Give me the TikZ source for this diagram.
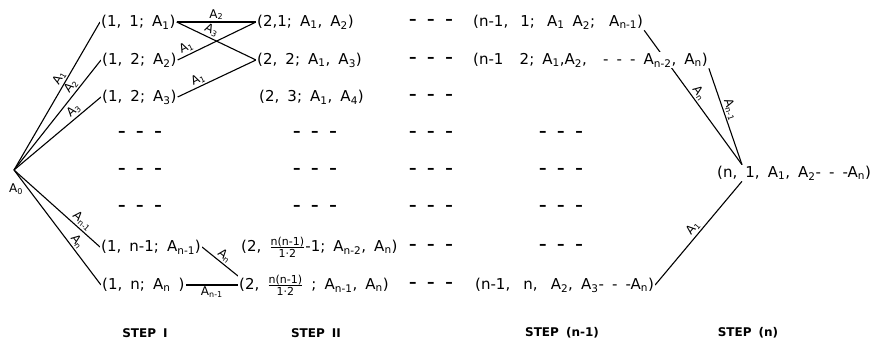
\documentclass[tikz,border=0pt]{standalone}
\usepackage{amsmath}
\usepackage{fontspec}
\setmainfont[WordSpace=1.7]{DejaVu Sans}
\usetikzlibrary{calc,backgrounds}

\newcommand\idx[1]{\textsubscript{#1}}
\newcommand\frc[2]{$\genfrac{}{}{0.7pt}{}{\mbox{\fontsize{11}{11}\selectfont #1}}{\mbox{\fontsize{11}{11}\selectfont #2}}$}
\newcommand\dashrow{\makebox[44pt][s]{–\hfill–\hfill–}}

\begin{document}
\begin{tikzpicture}[x=1pt,y=-1pt,
  tup/.style={anchor=west,inner sep=1pt,fill=white,font=\fontsize{15}{17}\selectfont},
  gap/.style={inner sep=0pt,font=\bfseries\fontsize{15}{17}\selectfont},
  lbl/.style={font=\fontsize{12}{13}\selectfont,inner sep=1.5pt,sloped,above},
  stepname/.style={font=\bfseries\fontsize{12}{14}\selectfont},
  link/.style={line width=1.1pt}]

\useasboundingbox (0,0) rectangle (879,347);

% ----- Root -----
\coordinate (root) at (14,170);
\node[font=\fontsize{12}{13}\selectfont] (a0) at (16,189) {A\idx{0}};

% ----- Step I -----
\node[tup] (a1) at (100,22)  {(1, 1; A\idx{1})};
\node[tup] (a2) at (101,60)  {(1, 2; A\idx{2})};
\node[tup] (a3) at (101,97)  {(1, 2; A\idx{3})};
\node[tup] (a7) at (100,247) {(1, n-1; A\idx{n-1})};
\node[tup] (a8) at (101,285) {(1, n; A\idx{n} )};

% ----- Step II -----
\node[tup] (b1) at (256,22)  {(2,1; A\idx{1}, A\idx{2})};
\node[tup] (b2) at (256,60)  {(2, 2; A\idx{1}, A\idx{3})};
\node[tup] (b3) at (258,97)  {(2, 3; A\idx{1}, A\idx{4})};
\node[tup] (b7) at (240,247) {(2, \frc{n(n-1)}{1·2}-1; A\idx{n-2}, A\idx{n})};
\node[tup] (b8) at (238,285) {(2, \frc{n(n-1)}{1·2} ; A\idx{n-1}, A\idx{n})};
\coordinate (b8in) at ($(b8.west)+(0,-9)$);

% ----- Step (n-1) -----
\node[tup] (c1) at (472,22)  {(n-1,\hspace{4pt} 1;\hspace{4pt} A\idx{1} A\idx{2};\hspace{6pt} A\idx{n-1})};
\node[tup] (c2) at (472,60)  {(n-1\ \ 2; A\idx{1},A\idx{2},\ \ - - - A\idx{n-2}, A\idx{n})};
\node[tup] (c8) at (474,285) {(n-1,\hspace{5pt} n,\hspace{5pt} A\idx{2}, A\idx{3}- - -A\idx{n})};

% ----- Step (n) -----
\node[tup] (d) at (716,173) {(n, 1, A\idx{1}, A\idx{2}- - -A\idx{n})};
\coordinate (dtop) at ($(d.north west)+(26,0)$);
\coordinate (dbot) at ($(d.south west)+(26,0)$);

% ----- Dashes -----
\foreach \y/\r in {134/4,171/5,208/6} {
  \node[gap] (s1r\r) at (140,\y) {\dashrow};
  \node[gap] (s2r\r) at (315,\y) {\dashrow};
}
\foreach \y/\r in {22/1,60/2,97/3,134/4,171/5,208/6,247/7,285/8}
  \node[gap] (s3r\r) at (431,\y) {\dashrow};
\foreach \y/\r in {134/4,171/5,208/6,247/7}
  \node[gap] (s4r\r) at (561,\y) {\dashrow};

% ----- Connectors -----
\begin{scope}[on background layer]
\draw[link] (root) -- node[lbl,pos=0.6]  {A\idx{1}} (a1.west);
\draw[link] (root) -- node[lbl,pos=0.72] {A\idx{2}} (a2.west);
\draw[link] (root) -- node[lbl,pos=0.74] {A\idx{3}} (a3.west);
\draw[link] (root) -- node[lbl,pos=0.74] {A\idx{n-1}} (a7.west);
\draw[link] (root) -- node[lbl,pos=0.66] {A\idx{n}} (a8.west);

\draw[link] (a1.east) -- node[lbl,pos=0.5]  {A\idx{2}} (b1.west);
\draw[link] (a1.east) -- node[lbl,pos=0.4] {A\idx{3}} (b2.west);
\draw[link] (a2.east) -- node[lbl,pos=0.15] {A\idx{1}} (b1.west);
\draw[link] (a3.east) -- node[lbl,pos=0.3]  {A\idx{1}} (b2.west);
\draw[link] (a7.east) -- node[lbl,pos=0.5] {A\idx{n}} (b8in);
\draw[link] (a8.east) -- node[lbl,below,pos=0.5] {A\idx{n-1}} (b8.west);

\draw[link] (c1.south east) -- node[lbl,pos=0.5] {A\idx{n}} (dtop);
\draw[link] (c2.south east) -- node[lbl,pos=0.45] {A\idx{n-1}} (dtop);
\draw[link] (c8.east) -- node[lbl,pos=0.5] {A\idx{1}} (dbot);
\end{scope}

% ----- Step names -----
\node[stepname] (st1) at (145,333) {STEP I};
\node[stepname] (st2) at (316,333) {STEP II};
\node[stepname] (st3) at (562,333) {STEP (n-1)};
\node[stepname] (st4) at (748,333) {STEP (n)};

\end{tikzpicture}
\end{document}
